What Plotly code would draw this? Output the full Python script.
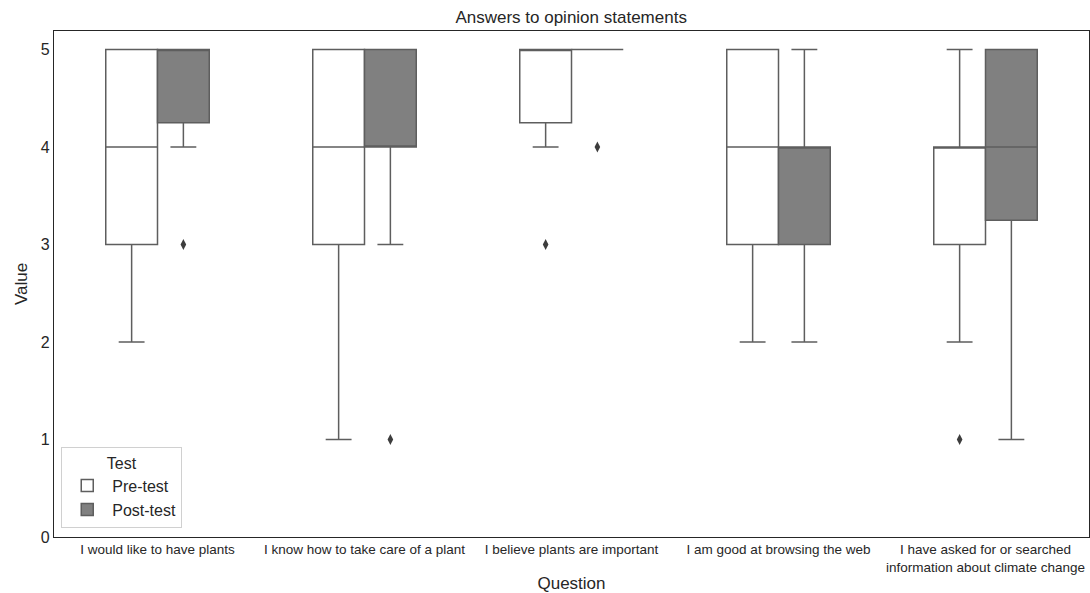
import plotly.graph_objects as go

questions = [
    "I would like to have plants",
    "I know how to take care of a plant",
    "I believe plants are important",
    "I am good at browsing the web",
    "I have asked for or searched<br>information about climate change",
]

# Pre-test statistics
pre_q1 = [3, 3, 4.25, 3, 3]
pre_med = [4, 4, 5, 4, 4]
pre_q3 = [5, 5, 5, 5, 4]
pre_low = [2, 1, 4, 2, 2]
pre_high = [5, 5, 5, 5, 5]
pre_out_idx = [2, 4]
pre_out_val = [3, 1]

# Post-test statistics
post_q1 = [4.25, 4, 5, 3, 3.25]
post_med = [5, 4, 5, 4, 4]
post_q3 = [5, 5, 5, 4, 5]
post_low = [4, 3, 5, 2, 1]
post_high = [5, 5, 5, 5, 5]
post_out_idx = [0, 1, 2]
post_out_val = [3, 1, 4]

OFF = 0.125
BW = 0.25
LINE = "#5e5e5e"
FONT = "Liberation Sans, Arial, sans-serif"
TXT = "#262626"

fig = go.Figure()

fig.add_trace(go.Box(
    name="Pre-test",
    x=[i - OFF for i in range(len(questions))],
    q1=pre_q1, median=pre_med, q3=pre_q3,
    lowerfence=pre_low, upperfence=pre_high,
    width=BW, whiskerwidth=0.5, boxpoints=False,
    fillcolor="white", line=dict(color=LINE, width=1.5),
    hoverinfo="skip",
))
fig.add_trace(go.Box(
    name="Post-test",
    x=[i + OFF for i in range(len(questions))],
    q1=post_q1, median=post_med, q3=post_q3,
    lowerfence=post_low, upperfence=post_high,
    width=BW, whiskerwidth=0.5, boxpoints=False,
    fillcolor="#808080", line=dict(color=LINE, width=1.5),
    hoverinfo="skip",
))

fig.add_trace(go.Scatter(
    x=[i - OFF for i in pre_out_idx], y=pre_out_val, mode="markers",
    marker=dict(symbol="diamond-tall", size=8, color="#3d3d3d"),
    showlegend=False, hoverinfo="skip",
))
fig.add_trace(go.Scatter(
    x=[i + OFF for i in post_out_idx], y=post_out_val, mode="markers",
    marker=dict(symbol="diamond-tall", size=8, color="#3d3d3d"),
    showlegend=False, hoverinfo="skip",
))

fig.update_layout(
    width=1090, height=593,
    margin=dict(l=54, r=1, t=31, b=56, autoexpand=False),
    plot_bgcolor="white", paper_bgcolor="white",
    font=dict(family=FONT, color=TXT),
    title=dict(text="Answers to opinion statements", x=0.524, xanchor="center",
               y=0.971, yanchor="middle", font=dict(size=17, color=TXT)),
    showlegend=True,
    legend=dict(
        x=0.007, y=0.018, xanchor="left", yanchor="bottom",
        bgcolor="white", bordercolor="#d0d0d0", borderwidth=1,
        font=dict(size=16, color=TXT),
        title=dict(text="Test", side="top center", font=dict(size=16, color=TXT)),
        itemwidth=40, tracegroupgap=2,
    ),
)

fig.update_xaxes(
    range=[-0.5, 4.5], automargin=False,
    tickmode="array", tickvals=list(range(len(questions))), ticktext=questions,
    tickfont=dict(size=13.5, color=TXT),
    ticks="", showgrid=False, zeroline=False,
    showline=True, mirror=True, linecolor=TXT, linewidth=1.3,
    title=dict(text="Question", font=dict(size=17, color=TXT), standoff=6),
)
fig.update_yaxes(
    range=[0, 5.19], automargin=False,
    tickmode="array", tickvals=[0, 1, 2, 3, 4, 5],
    tickfont=dict(size=16, color=TXT),
    ticks="", showgrid=False, zeroline=False,
    showline=True, mirror=True, linecolor=TXT, linewidth=1.3,
    title=dict(text="Value", font=dict(size=17, color=TXT), standoff=8),
)

fig.write_html("out.html", config={"displayModeBar": False},
               post_script="document.body.style.margin='0';")
